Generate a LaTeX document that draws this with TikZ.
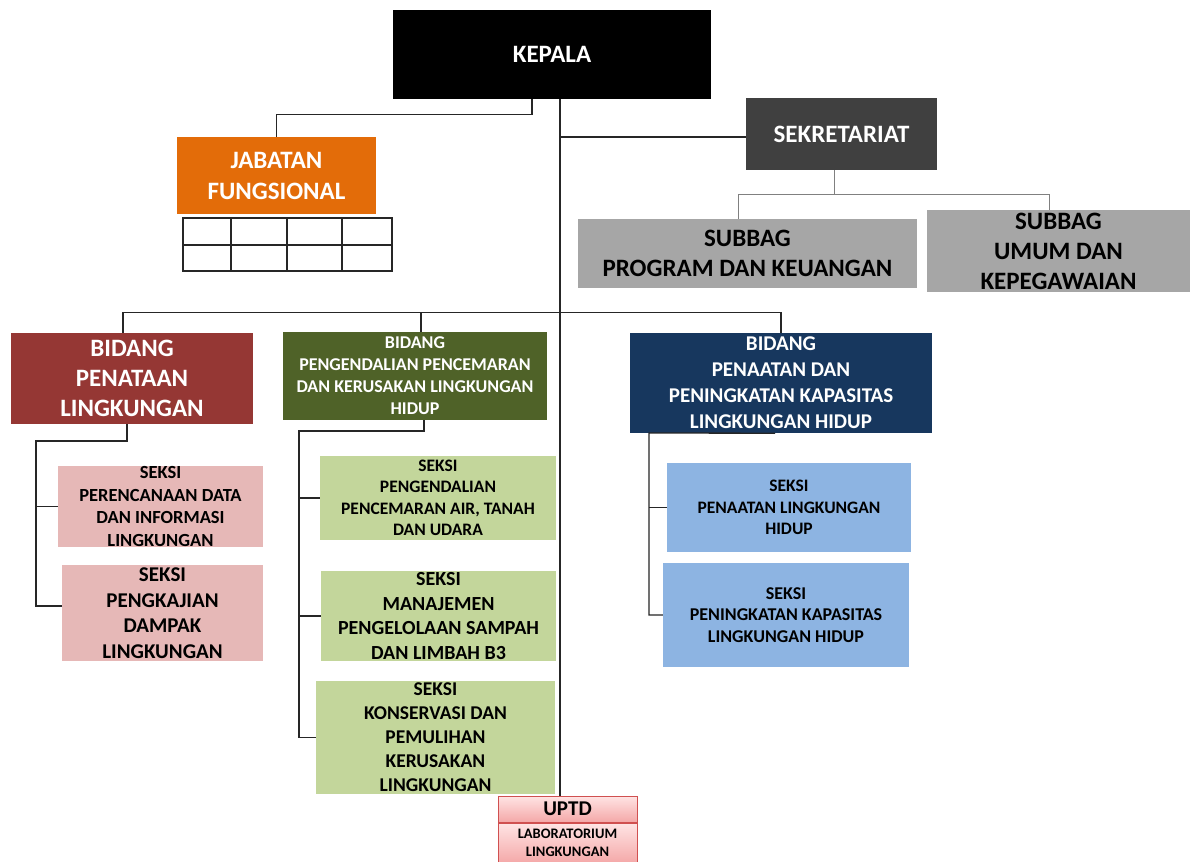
\documentclass[tikz,border=0pt]{standalone}
\usepackage{fontspec}
\setmainfont{Carlito}
\newcommand\fsz[2]{\fontsize{#1}{#2}\selectfont\bfseries}
\definecolor{kep}{HTML}{000000}
\definecolor{sek}{HTML}{404040}
\definecolor{jabc}{HTML}{E36C09}
\definecolor{subc}{HTML}{A6A6A6}
\definecolor{bidred}{HTML}{953734}
\definecolor{bidgreen}{HTML}{4F6228}
\definecolor{bidblue}{HTML}{17375E}
\definecolor{spink}{HTML}{E6B8B7}
\definecolor{sgreen}{HTML}{C3D69B}
\definecolor{sblue}{HTML}{8DB4E2}
\definecolor{uptdline}{HTML}{D05050}
\definecolor{uptdtop}{HTML}{FFE4E4}
\definecolor{uptdbot}{HTML}{F4A8A8}
\tikzset{
  box/.style={inner sep=0pt, align=center, text=white},
  dbox/.style={box, text=black},
  ln/.style={line width=1.3pt, draw=black!85},
  gln/.style={line width=1.3pt, draw=black!50},
  upbox/.style={dbox, draw=uptdline, line width=1pt, top color=uptdtop, bottom color=uptdbot},
}
\begin{document}
\begin{tikzpicture}[x=1pt,y=-1pt]
\useasboundingbox[fill=white] (0,0) rectangle (1197,862);

% nodes
\node[box, fill=kep, minimum width=318, minimum height=89, font=\fsz{25}{30}] (kepala) at (552,54.5) {KEPALA};
\node[box, fill=sek, minimum width=191, minimum height=72, font=\fsz{25}{30}] (sekr) at (841.5,134) {SEKRETARIAT};
\node[box, fill=jabc, minimum width=199, minimum height=77, font=\fsz{25}{31}] (jab) at (276.5,175.5) {JABATAN\\FUNGSIONAL};
\node[dbox, fill=subc, minimum width=339, minimum height=69, font=\fsz{25}{30}] (subbag1) at (747.5,253.5) {SUBBAG\\PROGRAM DAN KEUANGAN};
\node[dbox, fill=subc, minimum width=263, minimum height=82, font=\fsz{25}{30}] (subbag2) at (1058.5,251) {SUBBAG\\UMUM DAN\\KEPEGAWAIAN};

\node[box, fill=bidred, minimum width=242, minimum height=91, font=\fsz{25}{30}] (bid1) at (132,378.5) {BIDANG\\PENATAAN\\LINGKUNGAN};
\node[box, fill=bidgreen, minimum width=264, minimum height=88, font=\fsz{18}{22}] (bid2) at (415,376) {BIDANG\\PENGENDALIAN PENCEMARAN\\DAN KERUSAKAN LINGKUNGAN\\HIDUP};
\node[box, fill=bidblue, minimum width=302, minimum height=100, font=\fsz{21}{26}] (bid3) at (781,383) {BIDANG\\PENAATAN DAN\\PENINGKATAN KAPASITAS\\LINGKUNGAN HIDUP};

\node[dbox, fill=spink, minimum width=205, minimum height=81, font=\fsz{18.5}{22.5}] (s11) at (160.5,506.5) {SEKSI\\PERENCANAAN DATA\\DAN INFORMASI\\LINGKUNGAN};
\node[dbox, fill=spink, minimum width=201, minimum height=96, font=\fsz{21}{25.5}] (s12) at (162.5,613) {SEKSI\\PENGKAJIAN\\DAMPAK\\LINGKUNGAN};

\node[dbox, fill=sgreen, minimum width=236, minimum height=84, font=\fsz{17.5}{21.5}] (s21) at (438,498) {SEKSI\\PENGENDALIAN\\PENCEMARAN AIR, TANAH\\DAN UDARA};
\node[dbox, fill=sgreen, minimum width=235, minimum height=90, font=\fsz{20}{24.5}] (s22) at (438.5,616) {SEKSI\\MANAJEMEN\\PENGELOLAAN SAMPAH\\DAN LIMBAH B3};
\node[dbox, fill=sgreen, minimum width=239, minimum height=113, font=\fsz{19.5}{24}] (s23) at (435.5,737.5) {SEKSI\\KONSERVASI DAN\\PEMULIHAN\\KERUSAKAN\\LINGKUNGAN};

\node[dbox, fill=sblue, minimum width=244, minimum height=89, font=\fsz{17.5}{21.5}] (s31) at (789,507.5) {SEKSI\\PENAATAN LINGKUNGAN\\HIDUP};
\node[dbox, fill=sblue, minimum width=246, minimum height=104, font=\fsz{18}{21.5}] (s32) at (786,615) {SEKSI\\PENINGKATAN KAPASITAS\\LINGKUNGAN HIDUP};

\node[upbox, minimum width=139, minimum height=26, font=\fsz{21}{25}] (uptd) at (567.5,809) {UPTD};
\node[upbox, minimum width=139, minimum height=40, font=\fsz{14.5}{18}, anchor=north] (lab) at (uptd.south) {LABORATORIUM\\LINGKUNGAN};

% table under jabatan fungsional
\draw[line width=1.3pt, draw=black!85] (183,218) rectangle (392,271);
\draw[line width=1.3pt, draw=black!85] (183,245) -- (392,245);
\foreach \cx in {231,287,342} \draw[line width=1.3pt, draw=black!85] (\cx,218) -- (\cx,271);

% connectors
\coordinate (main) at ([xshift=8]kepala.south);
\draw[ln] (main) -- (main |- uptd.north);
\draw[ln] (main |- 0,137) -- (sekr.west |- 0,137);
\draw[ln] ([xshift=-20]kepala.south) -- ++(0,15) -| (jab.north);

\draw[gln] ([xshift=-7]sekr.south) -- ++(0,24) coordinate (sbus) -| ([xshift=-9]subbag1.north);
\draw[gln] (sbus) -| ([xshift=-9]subbag2.north);

\draw[ln] ([xshift=-9]bid1.north) -- ++(0,-20) -| (bid3.north);
\draw[ln] ([xshift=6]bid2.north) -- ++(0,-19);

\coordinate (t1) at (36,441);
\draw[ln] ([xshift=-5]bid1.south) |- (t1) |- ([yshift=7]s12.west);
\draw[ln] (t1 |- s11.west) -- (s11.west);

\coordinate (t2) at (299,431);
\draw[ln] ([xshift=9]bid2.south) |- (t2) |- (s23.west);
\draw[ln] (t2 |- s21.west) -- (s21.west);
\draw[ln] (t2 |- s22.west) -- (s22.west);

\coordinate (t3) at (649,433);
\draw[ln] ([xshift=-6]bid3.south) -- (t3) |- (s32.west);
\draw[ln] (t3 |- s31.west) -- (s31.west);
\end{tikzpicture}
\end{document}
